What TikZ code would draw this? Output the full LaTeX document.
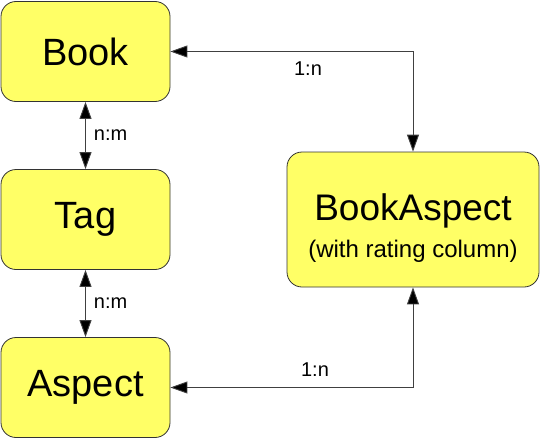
\documentclass[tikz,border=0pt]{standalone}
\usepackage{fontspec}
\setmainfont{Liberation Sans}
\usepackage{tikz}
\usetikzlibrary{arrows.meta}
\definecolor{boxfill}{RGB}{255,255,102}
\definecolor{boxline}{RGB}{51,51,51}
\definecolor{linkline}{RGB}{64,64,64}

\begin{document}
\begin{tikzpicture}[x=1pt,y=-1pt,
	every node/.style={inner sep=0pt},
	entity/.style={draw=boxline,fill=boxfill,rounded corners=15pt,line width=0.8pt,
		minimum width=169pt,minimum height=100pt,align=center,font=\fontsize{38}{42}\selectfont},
	link/.style={draw=linkline,line width=0.9pt,{Triangle[length=17pt,width=12pt,fill=black]}-{Triangle[length=17pt,width=12pt,fill=black]}},
	card/.style={font=\fontsize{20}{24}\selectfont}]
\useasboundingbox (0,0) rectangle (540,439);

%vertices
\node[entity] (book) at (85.5,51.5) {Book};
\node[entity] (tag) at (85.5,219.5) {Tag};
\node[entity] (aspect) at (85.5,387.5) {Aspect};
\node[entity,minimum width=252pt,minimum height=135pt] (bookaspect) at (413,219.5)
	{\fontsize{37}{38}\selectfont\rule{0pt}{44pt}BookAspect\\[-5pt]\fontsize{24}{26}\selectfont (with rating column)};

%edges
\draw[link] (book) -- (tag) node[card,midway,right=8pt] {n:m};
\draw[link] (tag) -- (aspect) node[card,midway,right=8pt] {n:m};
\draw[link] (book.east) -- (book.east -| bookaspect.north) -- (bookaspect.north);
\draw[link] (aspect.east) -- (aspect.east -| bookaspect.south) -- (bookaspect.south);

%labels
\node[card] (cardtop) at (308,69) {1:n};
\node[card] (cardbottom) at (315,370) {1:n};

\end{tikzpicture}
\end{document}
